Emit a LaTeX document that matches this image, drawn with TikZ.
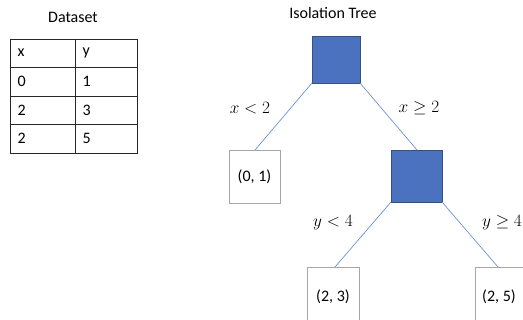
\documentclass[tikz,border=0pt]{standalone}
\usepackage{fontspec}
\setmainfont{Carlito}
\begin{document}
\begin{tikzpicture}[x=1pt,y=-1pt,
  leaf/.style={draw=gray!70, fill=white, line width=0.6pt},
  edge/.style={draw=lineblue, line width=0.7pt},
  lbl/.style={font=\fontsize{16}{18}\selectfont},
  tbl/.style={draw=black!85, line width=0.6pt},
  txt/.style={font=\fontsize{16}{18}\selectfont, anchor=west}]
\definecolor{nodeblue}{HTML}{4A72BE}
\definecolor{lineblue}{HTML}{6E93D6}
\colorlet{nodeedge}{nodeblue!70!black}
\path[use as bounding box] (0,0) rectangle (523,320);
\clip (0,0) rectangle (523,320);
\fill[white] (0,0) rectangle (523,320);
% Dataset table
\node[lbl] (dstitle) at (73,17) {Dataset};
\draw[tbl] (10,39) rectangle (137,153);
\draw[tbl] (75,39) -- (75,153);
\draw[tbl] (10,67) -- (137,67);
\draw[tbl] (10,96) -- (137,96);
\draw[tbl] (10,124) -- (137,124);
\node[txt] (hx) at (14,53) {x};
\node[txt] (hy) at (79,53) {y};
\node[txt] (r1x) at (14,81.5) {0};
\node[txt] (r1y) at (79,81.5) {1};
\node[txt] (r2x) at (14,110) {2};
\node[txt] (r2y) at (79,110) {3};
\node[txt] (r3x) at (14,138.5) {2};
\node[txt] (r3y) at (79,138.5) {5};
% Tree
\node[lbl] (tt) at (333,13) {Isolation Tree};
\path[draw=nodeedge, fill=nodeblue, line width=0.6pt] (312,36) rectangle (360,83);
\coordinate (rootbl) at (312,83);
\coordinate (rootbr) at (360,83);
\draw[leaf] (229,150) rectangle (280,203);
\node[lbl] (l01) at (254.5,176.5) {(0, 1)};
\coordinate (l01t) at (255,150);
\path[draw=nodeedge, fill=nodeblue, line width=0.6pt] (391,150) rectangle (442,202);
\coordinate (n2t) at (417,150);
\coordinate (n2bl) at (391,202);
\coordinate (n2br) at (442,202);
\draw[leaf] (307,267) rectangle (359,330);
\node[lbl] (l23) at (333,297) {(2, 3)};
\coordinate (l23t) at (335,267);
\draw[leaf] (475,267) rectangle (527,330);
\node[lbl] (l25) at (499,297) {(2, 5)};
\coordinate (l25t) at (498,267);
\draw[edge] (rootbl) -- (l01t);
\draw[edge] (rootbr) -- (n2t);
\draw[edge] (n2bl) -- (l23t);
\draw[edge] (n2br) -- (l25t);
\node[lbl] (e1) at (250,108) {$x<2$};
\node[lbl] (e2) at (419,108) {$x\geq 2$};
\node[lbl] (e3) at (333,223) {$y<4$};
\node[lbl] (e4) at (502,223) {$y\geq 4$};
\end{tikzpicture}
\end{document}
